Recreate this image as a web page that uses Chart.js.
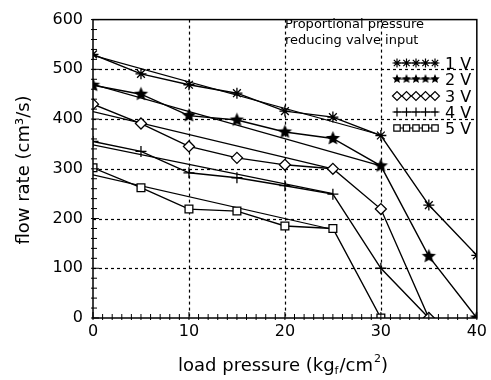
<!DOCTYPE html>
<html><head><meta charset="utf-8">
<script src="https://cdn.jsdelivr.net/npm/chart.js@4.4.1/dist/chart.umd.min.js"></script>
<style>html,body{margin:0;padding:0;background:#fff}#wrap{width:491px;height:380px}</style>
</head><body><div id="wrap"><canvas id="c" width="491" height="380"></canvas></div>
<script>
// ---- data ----
const pressure = [0, 5, 10, 15, 20, 25, 30, 35, 40];
const flow1V = [530, 491, 469, 452, 416, 404, 367, 227, 126];
const flow2V = [468, 450, 407, 398, 374, 361, 306, 124, 0];
const flow3V = [430, 391, 345, 322, 308, 300, 219, 0];
const flow4V = [355, 335, 292, 282, 266, 249, 100, 0];
const flow5V = [302, 262, 219, 215, 185, 180, 0];
// second (return) run of each input, drawn without markers
const returnP1 = [0, 30], returnF1 = [528, 368];
const returnP2 = [0, 30], returnF2 = [470, 306];
const returnP3 = [0, 25], returnF3 = [415, 300];
const returnP4 = [0, 25], returnF4 = [348, 250];
const returnP5 = [0, 25], returnF5 = [288, 178];
const seriesLabels = ['1 V', '2 V', '3 V', '4 V', '5 V'];
const legendTitle = ['Proportional pressure', 'reducing valve input'];
const xTicks = [0, 10, 20, 30, 40];
const yTicks = [0, 100, 200, 300, 400, 500, 600];

// filled star marker
function makeStar(r) {
  const c = document.createElement('canvas');
  const s = Math.ceil(r * 2 + 2);
  c.width = s; c.height = s;
  const g = c.getContext('2d');
  g.fillStyle = '#000';
  g.beginPath();
  for (let i = 0; i < 10; i++) {
    const rr = i % 2 === 0 ? r : r * 0.45;
    const a = -Math.PI / 2 + i * Math.PI / 5;
    const px = s / 2 + rr * Math.cos(a), py = s / 2 + rr * Math.sin(a);
    i === 0 ? g.moveTo(px, py) : g.lineTo(px, py);
  }
  g.closePath(); g.fill();
  return c;
}
const bigStar = makeStar(7.5);
const smallStar = makeStar(5);

const styles = [
  {ps: 'star', r: 5.5, fill: '#fff'},
  {ps: bigStar, r: 7, fill: '#000'},
  {ps: 'rectRot', r: 5.5, fill: '#fff'},
  {ps: 'cross', r: 5.5, fill: '#fff'},
  {ps: 'rect', r: 5.5, fill: '#fff'}
];
const flows = [flow1V, flow2V, flow3V, flow4V, flow5V];
const returns = [[returnP1, returnF1], [returnP2, returnF2], [returnP3, returnF3], [returnP4, returnF4], [returnP5, returnF5]];

const datasets = [];
flows.forEach((f, i) => {
  datasets.push({
    label: seriesLabels[i],
    data: f.map((v, k) => ({x: pressure[k], y: v})),
    borderColor: '#000', backgroundColor: styles[i].fill,
    borderWidth: 1.4, pointStyle: styles[i].ps, pointRadius: styles[i].r,
    pointBorderWidth: 1.3, pointBorderColor: '#000', pointBackgroundColor: styles[i].fill,
    tension: 0, order: 1
  });
  datasets.push({
    label: seriesLabels[i] + ' return',
    data: returns[i][0].map((p, k) => ({x: p, y: returns[i][1][k]})),
    borderColor: '#000', borderWidth: 1.2, pointRadius: 0, tension: 0, order: 2
  });
});

const L = 93, R = 483, T = 14, B = 318;

const gridPlugin = {
  id: 'dottedGrid',
  beforeDatasetsDraw(chart) {
    const ctx = chart.ctx, xs = chart.scales.x, ys = chart.scales.y, a = chart.chartArea;
    ctx.save();
    ctx.strokeStyle = '#000'; ctx.lineWidth = 1.2; ctx.setLineDash([3, 3]);
    xTicks.slice(1, -1).forEach(v => {
      const px = Math.round(xs.getPixelForValue(v)) + 0.5;
      ctx.beginPath(); ctx.moveTo(px, a.top); ctx.lineTo(px, a.bottom); ctx.stroke();
    });
    yTicks.slice(1, -1).forEach(v => {
      const py = Math.round(ys.getPixelForValue(v)) + 0.5;
      ctx.beginPath(); ctx.moveTo(a.left, py); ctx.lineTo(a.right, py); ctx.stroke();
    });
    ctx.restore();
  }
};

const deco = {
  id: 'deco',
  afterDraw(chart) {
    const ctx = chart.ctx;
    const xs = chart.scales.x, ys = chart.scales.y;
    const a = chart.chartArea;
    ctx.save();
    ctx.strokeStyle = '#000'; ctx.lineWidth = 1.5;
    ctx.strokeRect(a.left, a.top, a.right - a.left, a.bottom - a.top);
    ctx.lineWidth = 1;
    for (let v = 0; v <= 40; v += 1) {
      const px = xs.getPixelForValue(v);
      const len = v % 10 === 0 ? 6 : 4;
      ctx.beginPath(); ctx.moveTo(px, a.bottom + 2); ctx.lineTo(px, a.bottom - len); ctx.stroke();
    }
    for (let v = 0; v <= 600; v += 20) {
      const py = ys.getPixelForValue(v);
      const len = v % 100 === 0 ? 6 : 4;
      ctx.beginPath(); ctx.moveTo(a.left - 2, py); ctx.lineTo(a.left + len, py); ctx.stroke();
    }
    // axis titles
    ctx.fillStyle = '#000';
    ctx.textBaseline = 'alphabetic';
    const p1 = 'load pressure (kg', p2 = 'f', p3 = '/cm', p4 = '2', p5 = ')';
    ctx.font = '18px "DejaVu Sans"';
    const w1 = ctx.measureText(p1).width, w3 = ctx.measureText(p3).width, w5 = ctx.measureText(p5).width;
    ctx.font = '11px "DejaVu Sans"';
    const w2 = ctx.measureText(p2).width, w4 = ctx.measureText(p4).width;
    const total = w1 + w2 + w3 + w4 + w5 + 2;
    let x = 283 - total / 2; const by = 371;
    ctx.textAlign = 'left';
    ctx.font = '18px "DejaVu Sans"'; ctx.fillText(p1, x, by); x += w1;
    ctx.font = '11px "DejaVu Sans"'; ctx.fillText(p2, x, by + 3); x += w2 + 1;
    ctx.font = '18px "DejaVu Sans"'; ctx.fillText(p3, x, by); x += w3;
    ctx.font = '11px "DejaVu Sans"'; ctx.fillText(p4, x + 1, by - 9); x += w4 + 1;
    ctx.font = '18px "DejaVu Sans"'; ctx.fillText(p5, x, by);
    ctx.save();
    ctx.translate(29, 170); ctx.rotate(-Math.PI / 2);
    ctx.textAlign = 'center';
    ctx.font = '18px "DejaVu Sans"';
    ctx.fillText('flow rate (cm³/s)', 0, 0);
    ctx.restore();
    // legend
    ctx.font = '13px "DejaVu Sans"'; ctx.textAlign = 'left';
    ctx.fillText(legendTitle[0], 285, 28);
    ctx.fillText(legendTitle[1], 285, 44);
    const rows = [63, 79, 96, 112, 128];
    seriesLabels.forEach((lab, i) => {
      const y = rows[i];
      ctx.strokeStyle = '#000'; ctx.lineWidth = 1.2;
      ctx.beginPath(); ctx.moveTo(394, y); ctx.lineTo(438, y); ctx.stroke();
      for (let k = 0; k < 5; k++) {
        const mx = 397 + k * 9.5;
        ctx.fillStyle = styles[i].fill; ctx.strokeStyle = '#000';
        const ps = i === 1 ? smallStar : styles[i].ps;
        Chart.helpers.drawPoint(ctx, {pointStyle: ps, radius: 4.5, rotation: 0, borderWidth: 1.1}, mx, y);
      }
      ctx.fillStyle = '#000';
      ctx.font = '16px "DejaVu Sans"';
      ctx.fillText(lab, 445, y + 6);
    });
    ctx.restore();
  }
};

new Chart(document.getElementById('c'), {
  type: 'line',
  data: {datasets},
  options: {
    responsive: false, animation: false,
    layout: {padding: {top: T, right: 491 - R, left: 0, bottom: 0}},
    plugins: {legend: {display: false}, tooltip: {enabled: false}},
    scales: {
      x: {
        type: 'linear', min: 0, max: 40,
        afterBuildTicks: s => { s.ticks = xTicks.map(v => ({value: v})); },
        afterFit: s => { s.height = 380 - B; },
        ticks: {color: '#000', font: {family: 'DejaVu Sans', size: 16}, padding: 4, maxRotation: 0},
        grid: {display: false, drawTicks: false, tickLength: 0},
        border: {display: false}
      },
      y: {
        type: 'linear', min: 0, max: 600,
        afterBuildTicks: s => { s.ticks = yTicks.map(v => ({value: v})); },
        afterFit: s => { s.width = L; },
        ticks: {color: '#000', font: {family: 'DejaVu Sans', size: 16}, padding: 10},
        grid: {display: false, drawTicks: false, tickLength: 0},
        border: {display: false}
      }
    }
  },
  plugins: [gridPlugin, deco]
});
</script></body></html>
